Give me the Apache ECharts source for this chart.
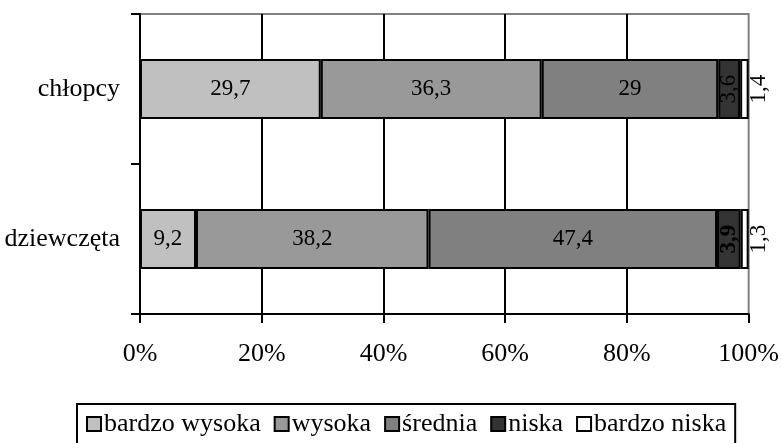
<!DOCTYPE html>
<html>
<head>
<meta charset="utf-8">
<script src="https://cdn.jsdelivr.net/npm/echarts@6/dist/echarts.min.js"></script>
<style>
html,body{margin:0;padding:0;background:#fff;}
#chart{width:782px;height:443px;}
</style>
</head>
<body>
<div id="chart"></div>
<script>
var categories = ['chłopcy', 'dziewczęta'];
var seriesNames = ['bardzo wysoka', 'wysoka', 'średnia', 'niska', 'bardzo niska'];
var bardzoWysoka = [29.7, 9.2];
var wysoka = [36.3, 38.2];
var srednia = [29, 47.4];
var niska = [3.6, 3.9];
var bardzoNiska = [1.4, 1.3];
var xTicks = [0, 20, 40, 60, 80, 100];

var FONT = "'Liberation Serif', 'Times New Roman', serif";
var colors = ['#c0c0c0', '#999999', '#808080', '#333333', '#ffffff'];
var values = [bardzoWysoka, wysoka, srednia, niska, bardzoNiska];

function fmt(p) { return String(p.value).replace('.', ','); }

var series = values.map(function (vals, i) {
  var data = vals.map(function (v, j) {
    var d = { value: v };
    if (i === 3) {
      d.label = { rotate: 90, fontWeight: (j === 1 ? 'bold' : 'normal') };
    }
    return d;
  });
  var label = {
    show: true, position: 'inside', formatter: fmt, color: '#000',
    fontFamily: FONT, fontSize: 23
  };
  if (i === 4) {
    label = {
      show: true, position: 'right', distance: 10, rotate: 90, align: 'center',
      verticalAlign: 'middle', formatter: fmt, color: '#000', fontFamily: FONT, fontSize: 23
    };
  }
  return {
    name: seriesNames[i], type: 'bar', stack: 'total', barWidth: '40%',
    itemStyle: { color: colors[i], borderColor: '#000', borderWidth: 2 },
    label: label, data: data, animation: false
  };
});

var chart = echarts.init(document.getElementById('chart'));
chart.setOption({
  animation: false,
  grid: { left: 140, right: 30, top: 14, bottom: 129, show: true, borderColor: '#808080', borderWidth: 2, containLabel: false },
  legend: {
    left: 77, top: 404, padding: [7, 9, 12, 9], borderColor: '#000', borderWidth: 2,
    itemWidth: 14, itemHeight: 14, itemGap: 13, icon: 'rect',
    textStyle: { fontFamily: FONT, fontSize: 26, color: '#000', padding: [0, 0, 0, -2] },
    data: seriesNames
  },
  xAxis: {
    type: 'value', min: xTicks[0], max: xTicks[xTicks.length - 1], interval: xTicks[1] - xTicks[0],
    axisLine: { show: true, lineStyle: { color: '#000', width: 2 } },
    axisTick: { show: true, length: 9, lineStyle: { color: '#000', width: 2 } },
    axisLabel: { formatter: '{value}%', margin: 27, fontFamily: FONT, fontSize: 26, color: '#000' },
    splitLine: { show: true, showMinLine: false, showMaxLine: false, lineStyle: { color: '#000', width: 2 } }
  },
  yAxis: {
    type: 'category', data: categories, inverse: true,
    axisLine: { show: true, lineStyle: { color: '#000', width: 2 } },
    axisTick: { show: true, length: 9, lineStyle: { color: '#000', width: 2 } },
    axisLabel: { margin: 20, fontFamily: FONT, fontSize: 26, color: '#000' }
  },
  series: series
});
</script>
</body>
</html>
